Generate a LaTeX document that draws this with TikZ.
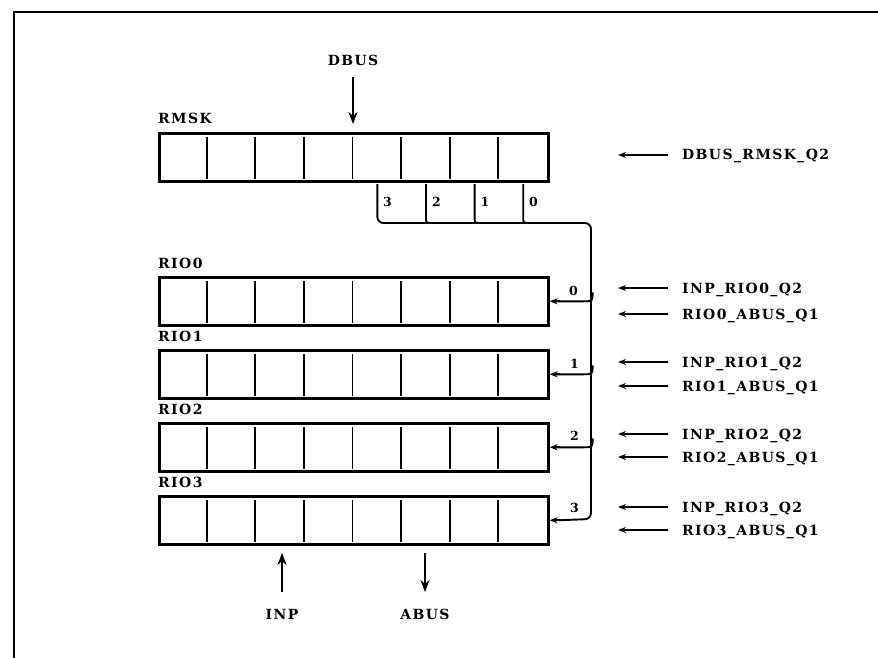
\documentclass[tikz,border=0pt]{standalone}
\usepackage{fontspec}
\setmainfont{DejaVu Serif}
\newfontfamily\lblfont[LetterSpace=10]{DejaVu Serif}
\usetikzlibrary{arrows.meta,calc}
\tikzset{
  reg/.style={draw, line width=2.6pt, rectangle, minimum width=389pt, minimum height=48pt, inner sep=0pt, anchor=north west},
  div/.style={line width=1.8pt},
  lbl/.style={font=\lblfont\bfseries\fontsize{14}{16}\selectfont, inner sep=0pt},
  dig/.style={font=\bfseries\fontsize{12.5}{14}\selectfont, inner sep=0pt},
  bus/.style={line width=1.9pt},
  sarrow/.style={line width=1.7pt, -{Stealth[length=8pt,width=6pt]}},
  barrow/.style={line width=2.2pt, -{Stealth[length=12pt,width=9pt]}},
  frame/.style={line width=2.6pt}
}
\begin{document}
\begin{tikzpicture}[x=1pt,y=-1pt]
\useasboundingbox (0,0) rectangle (878,658);
% frame
\draw[frame] (14,658) -- (14,12) -- (878,12);

% registers
\foreach \n/\t/\l in {rmsk/132/RMSK, rio0/276/RIO0, rio1/349/RIO1, rio2/422/RIO2, rio3/495/RIO3}{
  \node[reg] (\n) at (158,\t) {};
  \node[lbl, anchor=base west] (\n lab) at (158,\t-8) {\l};
  \foreach \i in {1,...,7}{
    \draw[div] ($(\n.north west)+(\i*48.6,5)$) -- ($(\n.south west)+(\i*48.6,-4)$);
  }
}

% DBUS input
\node[lbl] (dbus) at (353,60) {DBUS};
\coordinate (dbt) at (353,77);
\draw[barrow] (dbt) -- (353,124);

% mask taps
\coordinate (t3) at (377.4,184);
\coordinate (t2) at (426,184);
\coordinate (t1) at (474.6,184);
\coordinate (t0) at (523.2,184);
\coordinate (corner) at (591,223);
\draw[bus, rounded corners=6pt] (t3) |- (corner) -- (591,519) -- ($(rio3.east)+(8,0)$);
\draw[sarrow] ($(rio3.east)+(10,0)$) -- (rio3.east);
\foreach \k in {t2,t1,t0}{
  \draw[bus] (\k) -- ($(\k)+(0,33)$) .. controls ($(\k)+(0,39)$) .. ($(\k)+(6,39)$);
}
\node[dig, anchor=base west] (d3) at (383,206) {3};
\node[dig, anchor=base west] (d2) at (432,206) {2};
\node[dig, anchor=base west] (d1) at (480.5,206) {1};
\node[dig, anchor=base west] (d0) at (529,206) {0};

% branches to RIO0..2
\foreach \n in {rio0,rio1,rio2}{
  \draw[bus] ($(\n.east)+(43,-9)$) .. controls ($(\n.east)+(43,0)$) .. ($(\n.east)+(34,0)$) -- ($(\n.east)+(6,0)$);
  \draw[sarrow] ($(\n.east)+(10,0)$) -- (\n.east);
}
\node[dig, anchor=base west] (b0) at (569,295) {0};
\node[dig, anchor=base west] (b1) at (570,368) {1};
\node[dig, anchor=base west] (b2) at (570,440) {2};
\node[dig, anchor=base west] (b3) at (570,512) {3};

% right-hand signals
\foreach \nm/\y/\txt in {s0/155/DBUS\_RMSK\_Q2, s1/288/INP\_RIO0\_Q2, s2/314/RIO0\_ABUS\_Q1, s3/362/INP\_RIO1\_Q2, s4/386/RIO1\_ABUS\_Q1, s5/434/INP\_RIO2\_Q2, s6/457/RIO2\_ABUS\_Q1, s7/507/INP\_RIO3\_Q2, s8/530/RIO3\_ABUS\_Q1}{
  \node[lbl, anchor=base west] (\nm) at (682,\y+5) {\txt};
  \coordinate (\nm a) at (668,\y);
  \coordinate (\nm b) at (618,\y);
  \draw[sarrow] (\nm a) -- (\nm b);
}

% INP and ABUS
\node[lbl] (inp) at (282,614) {INP};
\node[lbl] (abus) at (425,614) {ABUS};
\coordinate (inpa) at (282,553);
\coordinate (inpb) at (282,592);
\coordinate (abusa) at (425,592);
\coordinate (abusb) at (425,553);
\draw[barrow] (inpb) -- (inpa);
\draw[barrow] (abusb) -- (abusa);
\end{tikzpicture}
\end{document}
